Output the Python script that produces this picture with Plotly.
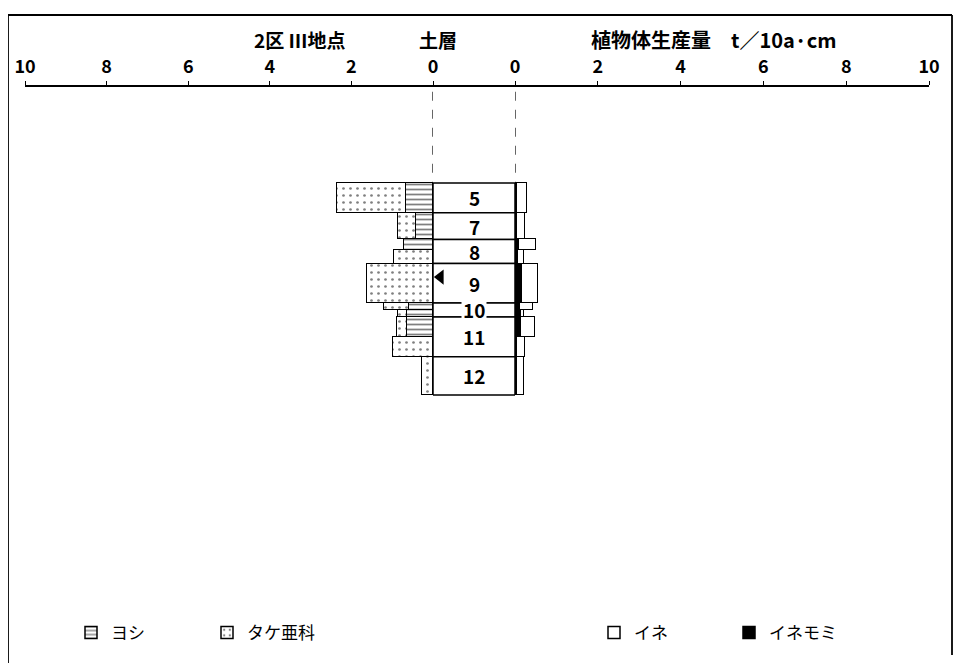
import plotly.graph_objects as go

# 深さ (cm) : 試料区間の上端・下端
band_top = [0, 7, 13.3, 15.7, 19, 28.3, 30, 31.6, 36.3, 41]
band_bottom = [7, 13.3, 15.7, 19, 28.3, 30, 31.6, 36.3, 41, 50]

# 植物体生産量 t/10a・cm
yoshi = [0.66, 0.42, 0.72, None, None, 0.59, 0.64, 0.64, None, None]
take = [1.69, 0.44, None, 0.96, 1.62, 0.61, 0.22, 0.25, 0.98, 0.27]
inemomi = [0.05, 0.05, 0.10, 0.07, 0.17, 0.12, 0.14, 0.15, 0.05, 0.05]
ine = [0.24, 0.19, 0.41, 0.15, 0.39, 0.31, 0.08, 0.34, 0.19, 0.17]

# 土層
layer_names = ["5", "7", "8", "9", "10", "11", "12"]
layer_top = [0, 7, 13.3, 19, 28.3, 31.6, 41]
layer_bottom = [7, 13.3, 19, 28.3, 31.6, 41, 50]

tick_vals = [0, 2, 4, 6, 8, 10]
font = "Noto Sans CJK JP"

W, H = 962, 663
OFF = 8  # ページの余白ぶん
def px(x):
    return (x - OFF) / W
def py(y):
    return 1 - (y - OFF) / H

centers = [(a + b) / 2 for a, b in zip(band_top, band_bottom)]
widths = [b - a for a, b in zip(band_top, band_bottom)]

fig = go.Figure()
line = dict(color="black", width=1.5)

fig.add_trace(go.Bar(y=centers, x=yoshi, width=widths, orientation="h", name="ヨシ",
                     marker=dict(color="white", line=line,
                                 pattern=dict(shape="-", fgcolor="black", bgcolor="white", size=5, solidity=0.35)),
                     xaxis="x", yaxis="y", legend="legend"))
fig.add_trace(go.Bar(y=centers, x=take, width=widths, orientation="h", name="タケ亜科",
                     marker=dict(color="white", line=line,
                                 pattern=dict(shape=".", fgcolor="black", bgcolor="white", size=7, solidity=0.12)),
                     xaxis="x", yaxis="y", legend="legend"))
fig.add_trace(go.Bar(y=centers, x=inemomi, width=widths, orientation="h", name="イネモミ",
                     marker=dict(color="black", line=line),
                     xaxis="x2", yaxis="y", legend="legend2", legendrank=2))
fig.add_trace(go.Bar(y=centers, x=ine, width=widths, orientation="h", name="イネ",
                     marker=dict(color="white", line=line),
                     xaxis="x2", yaxis="y", legend="legend2", legendrank=1))

# 土層の柱
for name, t, b in zip(layer_names, layer_top, layer_bottom):
    fig.add_shape(type="rect", xref="x3", yref="y", x0=0, x1=1, y0=t, y1=b,
                  line=dict(color="black", width=1.5), fillcolor="white", layer="below")
    fig.add_annotation(xref="x3", yref="y", x=0.5, y=(t + b) / 2, text=name, showarrow=False,
                       xanchor="center", yanchor="middle",
                       font=dict(family=font, size=19, color="black", weight="bold"),
                       bgcolor="white" if name == "10" else None)

fig.add_trace(go.Scatter(x=[0.09], y=[22.2], mode="markers", xaxis="x3", yaxis="y",
                         marker=dict(symbol="triangle-left", size=13, color="black"),
                         showlegend=False, hoverinfo="skip"))

# 点線
for xr in ["x", "x2"]:
    fig.add_shape(type="line", xref=xr, yref="y", x0=0, x1=0, y0=-21.5, y1=0,
                  line=dict(color="black", width=1.2, dash="dash"))

# 枠 (左・上・右)
frame = [(8, 690, 8, 15), (8, 15, 952, 15), (952, 15, 952, 655)]
for x0, y0, x1, y1 in frame:
    fig.add_shape(type="line", xref="paper", yref="paper", x0=px(x0), y0=py(y0), x1=px(x1), y1=py(y1),
                  line=dict(color="black", width=1.8))

# 見出し
titles = [("2区 Ⅲ地点", 300, 19), ("土層", 438, 19), ("植物体生産量　t／10a·cm", 714, 20)]
for text, x, size in titles:
    fig.add_annotation(xref="paper", yref="paper", x=px(x), y=py(39), text=text, showarrow=False,
                       xanchor="center", yanchor="middle",
                       font=dict(family=font, size=size, color="black", weight="bold"))

ax = dict(side="top", showline=True, linecolor="black", linewidth=1.5, ticks="outside",
          ticklen=4, tickcolor="black", showgrid=False, zeroline=False, tickvals=tick_vals,
          ticklabelstandoff=1, tickfont=dict(family=font, size=18, color="black", weight="bold"),
          anchor="y", fixedrange=True, automargin=False)

fig.update_layout(
    width=W, height=H,
    margin=dict(l=0, r=0, t=0, b=0, autoexpand=False),
    plot_bgcolor="white", paper_bgcolor="white",
    barmode="stack", bargap=0,
    font=dict(family=font, color="black"),
    xaxis=dict(ax, domain=[px(25), px(433)], range=[10, 0]),
    xaxis2=dict(ax, domain=[px(515), px(929)], range=[0, 10]),
    xaxis3=dict(domain=[px(433), px(515)], range=[0, 1], side="top", showline=True,
                linecolor="black", linewidth=1.5, showticklabels=False, ticks="",
                showgrid=False, zeroline=False, anchor="y", automargin=False),
    yaxis=dict(domain=[py(600), py(87)], range=[98.35, -22.64], visible=False, fixedrange=True),
    legend=dict(orientation="h", x=px(71), y=py(633), xanchor="left", yanchor="middle",
                entrywidth=91, entrywidthmode="pixels", traceorder="normal",
                font=dict(family=font, size=17, color="black")),
    legend2=dict(orientation="h", x=px(594), y=py(633), xanchor="left", yanchor="middle",
                 entrywidth=90, entrywidthmode="pixels", traceorder="normal",
                 font=dict(family=font, size=17, color="black")),
)

fig.write_html("out.html")
